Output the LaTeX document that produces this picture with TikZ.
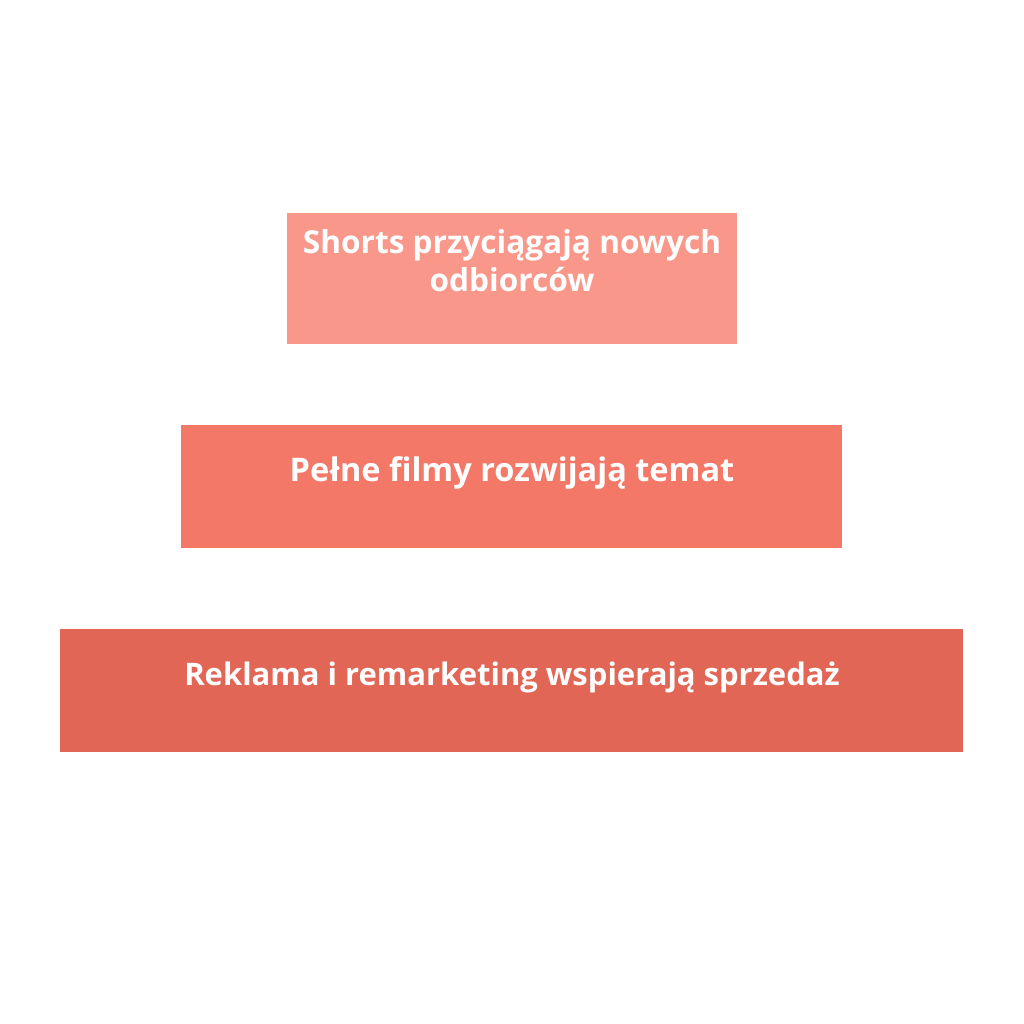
\documentclass[tikz,border=0pt]{standalone}
\usepackage{fontspec}
\setmainfont{Open Sans}
\definecolor{c1}{HTML}{F8978A}
\definecolor{c2}{HTML}{F47868}
\definecolor{c3}{HTML}{E26655}
\begin{document}
\begin{tikzpicture}[x=1pt,y=-1pt,
  lbl/.style={text=white,font=\fontsize{32}{39}\selectfont\bfseries,anchor=base,inner sep=0pt,align=center}]
\useasboundingbox (0,0) rectangle (1024,1024);
\fill[white] (0,0) rectangle (1024,1024);
\fill[c1] (287,213) rectangle (737,344);
\fill[c2] (181,425) rectangle (842,548);
\fill[c3] (60,629) rectangle (963,752);
\node[lbl,font=\fontsize{31.6}{39}\selectfont\bfseries] (t1) at (512,253) {Shorts przyciągają nowych};
\node[lbl,font=\fontsize{31.6}{39}\selectfont\bfseries] (t1b) at (512,291) {odbiorców};
\node[lbl,font=\fontsize{32.5}{39}\selectfont\bfseries] (t2) at (512,481) {Pełne filmy rozwijają temat};
\node[lbl,font=\fontsize{31}{39}\selectfont\bfseries] (t3) at (512,685) {Reklama i remarketing wspierają sprzedaż};
\end{tikzpicture}
\end{document}
